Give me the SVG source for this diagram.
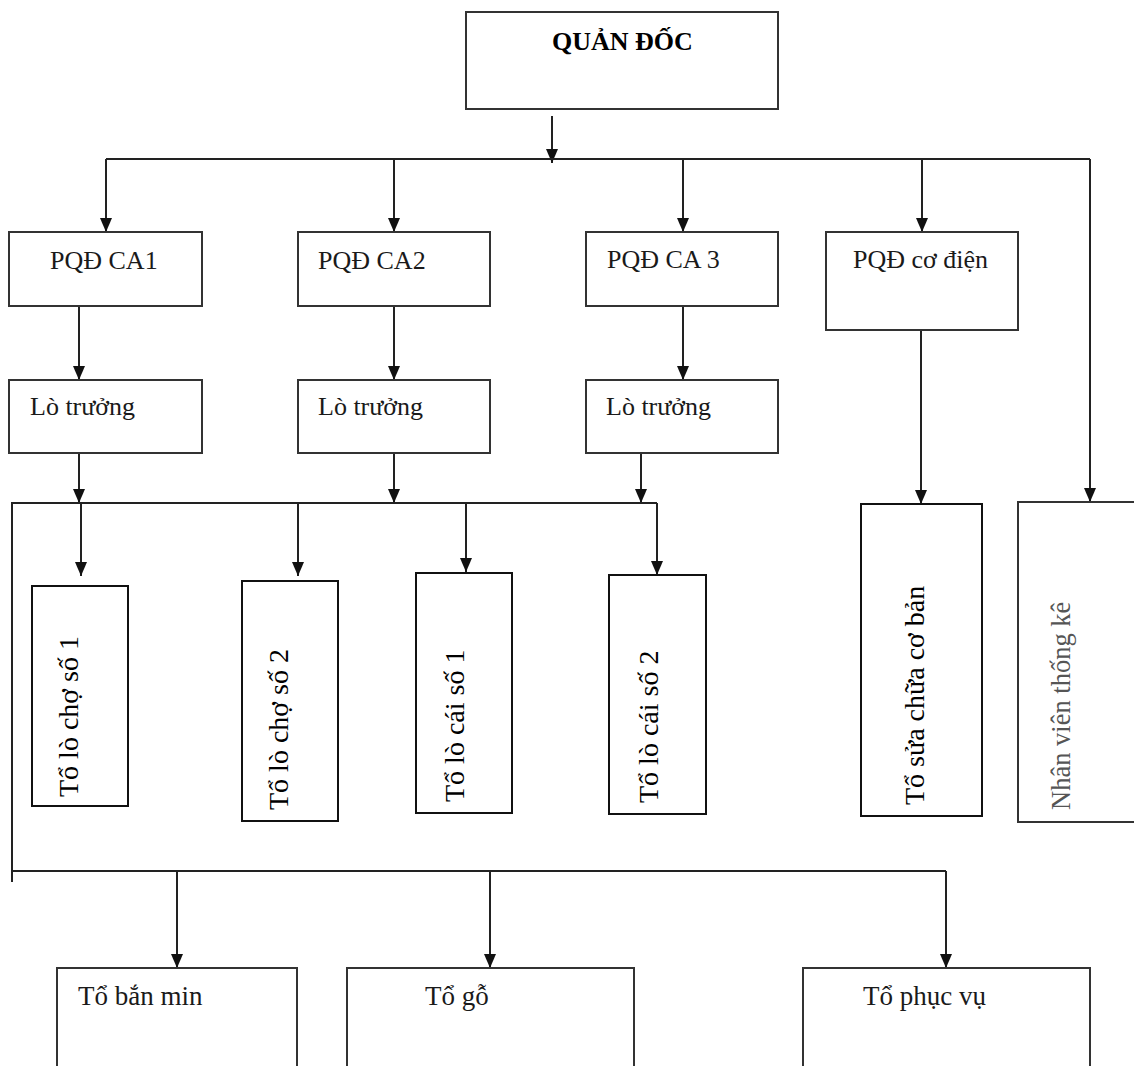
<svg xmlns="http://www.w3.org/2000/svg" width="1134" height="1066" viewBox="0 0 1134 1066">
<style>
.box{fill:#fff;stroke:#333;stroke-width:2}
.vbox{fill:#fff;stroke:#111;stroke-width:2}
.ln{fill:none;stroke:#222;stroke-width:2}
.t{font-family:"Liberation Serif","Times New Roman",serif;font-size:26px;fill:#1a1a1a}
.tb{font-family:"Liberation Serif","Times New Roman",serif;font-size:26px;font-weight:bold;fill:#000}
.tv{font-family:"Liberation Serif","Times New Roman",serif;font-size:28px;fill:#000}
.tg{font-family:"Liberation Serif","Times New Roman",serif;font-size:26.5px;fill:#555}
.t2{font-family:"Liberation Serif","Times New Roman",serif;font-size:27px;fill:#1a1a1a}
</style>
<defs>
<marker id="ah" markerWidth="14" markerHeight="12" refX="14" refY="6" orient="auto" markerUnits="userSpaceOnUse" viewBox="0 0 14 12">
<path d="M0,0 L14,6 L0,12 Z" fill="#111"/>
</marker>
</defs>
<rect width="1134" height="1066" fill="#fff"/>

<g id="connectors">
<line class="ln" x1="552" y1="116" x2="552" y2="163" marker-end="url(#ah)"/>
<line class="ln" x1="106" y1="159" x2="1090" y2="159"/>
<line class="ln" x1="106" y1="159" x2="106" y2="232" marker-end="url(#ah)"/>
<line class="ln" x1="106" y1="232" x2="106" y2="281"/>
<line class="ln" x1="394" y1="159" x2="394" y2="232" marker-end="url(#ah)"/>
<line class="ln" x1="683" y1="159" x2="683" y2="232" marker-end="url(#ah)"/>
<line class="ln" x1="922" y1="159" x2="922" y2="232" marker-end="url(#ah)"/>
<line class="ln" x1="1090" y1="159" x2="1090" y2="502" marker-end="url(#ah)"/>
<line class="ln" x1="79" y1="306" x2="79" y2="380" marker-end="url(#ah)"/>
<line class="ln" x1="394" y1="306" x2="394" y2="380" marker-end="url(#ah)"/>
<line class="ln" x1="683" y1="306" x2="683" y2="380" marker-end="url(#ah)"/>
<line class="ln" x1="921" y1="330" x2="921" y2="504" marker-end="url(#ah)"/>
<line class="ln" x1="79" y1="453" x2="79" y2="503" marker-end="url(#ah)"/>
<line class="ln" x1="394" y1="453" x2="394" y2="503" marker-end="url(#ah)"/>
<line class="ln" x1="641" y1="453" x2="641" y2="503" marker-end="url(#ah)"/>
<polyline class="ln" points="12,882 12,503 657,503"/>
<line class="ln" x1="81" y1="503" x2="81" y2="576" marker-end="url(#ah)"/>
<line class="ln" x1="298" y1="503" x2="298" y2="576" marker-end="url(#ah)"/>
<line class="ln" x1="466" y1="503" x2="466" y2="572" marker-end="url(#ah)"/>
<line class="ln" x1="657" y1="503" x2="657" y2="575" marker-end="url(#ah)"/>
<line class="ln" x1="12" y1="871" x2="946" y2="871"/>
<line class="ln" x1="177" y1="871" x2="177" y2="968" marker-end="url(#ah)"/>
<line class="ln" x1="490" y1="871" x2="490" y2="968" marker-end="url(#ah)"/>
<line class="ln" x1="946" y1="871" x2="946" y2="968" marker-end="url(#ah)"/>
</g>

<g id="quan-doc">
<rect class="box" x="466" y="12" width="312" height="97"/>
<text class="tb" x="552" y="50">QUẢN ĐỐC</text>
</g>

<g id="pqd-ca1">
<rect class="box" x="9" y="232" width="193" height="74"/>
<text class="t" x="50" y="269">PQĐ CA1</text>
</g>
<g id="pqd-ca2">
<rect class="box" x="298" y="232" width="192" height="74"/>
<text class="t" x="318" y="269">PQĐ CA2</text>
</g>
<g id="pqd-ca3">
<rect class="box" x="586" y="232" width="192" height="74"/>
<text class="t" x="607" y="268">PQĐ CA 3</text>
</g>
<g id="pqd-co-dien">
<rect class="box" x="826" y="232" width="192" height="98"/>
<text class="t" x="853" y="268">PQĐ cơ điện</text>
</g>

<g id="lo-truong-1">
<rect class="box" x="9" y="380" width="193" height="73"/>
<text class="t" x="30" y="415">Lò trưởng</text>
</g>
<g id="lo-truong-2">
<rect class="box" x="298" y="380" width="192" height="73"/>
<text class="t" x="318" y="415">Lò trưởng</text>
</g>
<g id="lo-truong-3">
<rect class="box" x="586" y="380" width="192" height="73"/>
<text class="t" x="606" y="415">Lò trưởng</text>
</g>

<g id="to-lo-cho-1">
<rect class="vbox" x="32" y="586" width="96" height="220"/>
<text class="tv" transform="translate(78,797) rotate(-90)">Tổ lò chợ số 1</text>
</g>
<g id="to-lo-cho-2">
<rect class="vbox" x="242" y="581" width="96" height="240"/>
<text class="tv" transform="translate(288,810) rotate(-90)">Tổ lò chợ số 2</text>
</g>
<g id="to-lo-cai-1">
<rect class="vbox" x="416" y="573" width="96" height="240"/>
<text class="tv" transform="translate(464,802) rotate(-90)">Tổ lò cái số 1</text>
</g>
<g id="to-lo-cai-2">
<rect class="vbox" x="609" y="575" width="97" height="239"/>
<text class="tv" transform="translate(658,803) rotate(-90)">Tổ lò cái số 2</text>
</g>
<g id="to-sua-chua">
<rect class="vbox" x="861" y="504" width="121" height="312"/>
<text class="tv" transform="translate(924,805) rotate(-90)">Tổ sửa chữa cơ bản</text>
</g>
<g id="nhan-vien">
<rect class="box" x="1018" y="502" width="130" height="320"/>
<text class="tg" transform="translate(1070,810) rotate(-90)">Nhân viên thống kê</text>
</g>

<g id="to-ban-min">
<rect class="box" x="57" y="968" width="240" height="110"/>
<text class="t2" x="78" y="1005">Tổ bắn min</text>
</g>
<g id="to-go">
<rect class="box" x="347" y="968" width="287" height="110"/>
<text class="t2" x="425" y="1005">Tổ gỗ</text>
</g>
<g id="to-phuc-vu">
<rect class="box" x="803" y="968" width="287" height="110"/>
<text class="t2" x="863" y="1005">Tổ phục vụ</text>
</g>
</svg>
